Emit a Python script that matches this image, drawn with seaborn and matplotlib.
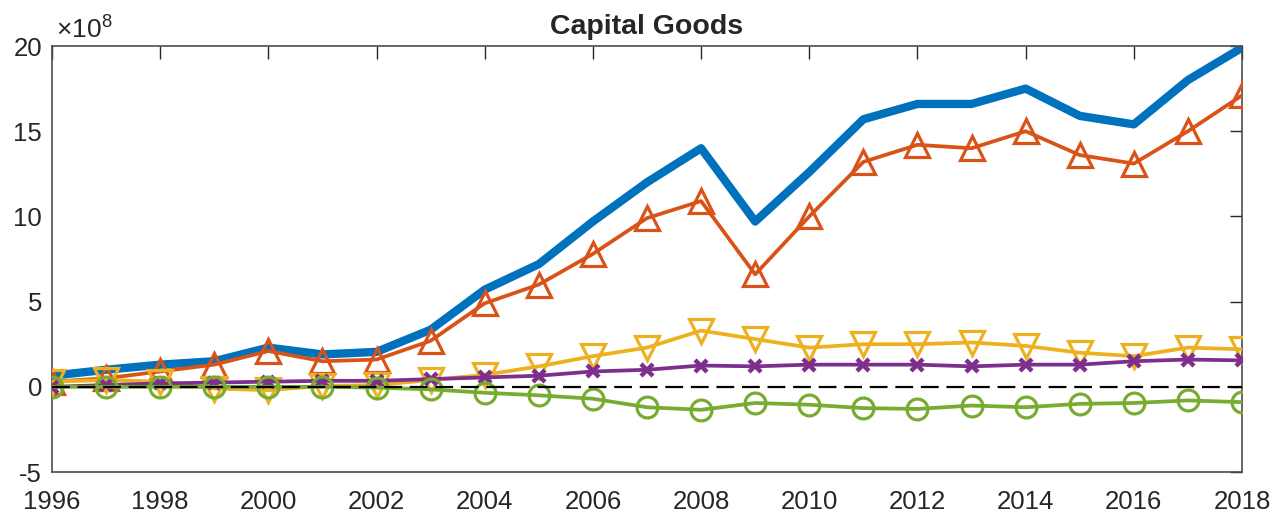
import matplotlib
matplotlib.use("Agg")
import matplotlib.pyplot as plt
import seaborn as sns

# Data (values in units of 1e8)
years = list(range(1996, 2019))
total = [0.65, 1.0, 1.3, 1.5, 2.3, 1.9, 2.05, 3.35, 5.7, 7.2, 9.7, 12.0, 14.0,
         9.7, 12.6, 15.7, 16.6, 16.6, 17.5, 15.9, 15.4, 18.0, 19.9]
tri_up = [0.3, 0.5, 0.9, 1.3, 2.1, 1.5, 1.6, 2.7, 4.9, 6.0, 7.8, 9.9, 10.9,
          6.6, 10.0, 13.2, 14.2, 14.0, 15.0, 13.6, 13.1, 15.0, 17.1]
tri_down = [0.3, 0.4, 0.3, -0.1, -0.2, 0.05, 0.1, 0.4, 0.7, 1.2, 1.8, 2.3, 3.3,
            2.8, 2.3, 2.5, 2.5, 2.6, 2.4, 2.0, 1.8, 2.3, 2.2]
cross = [0.0, 0.1, 0.2, 0.25, 0.3, 0.35, 0.35, 0.45, 0.55, 0.65, 0.9, 1.0, 1.25,
         1.2, 1.3, 1.3, 1.3, 1.2, 1.3, 1.3, 1.5, 1.6, 1.55]
circle = [0.0, 0.0, 0.0, 0.0, 0.0, 0.0, -0.05, -0.15, -0.35, -0.5, -0.7, -1.2, -1.35,
          -0.95, -1.05, -1.25, -1.3, -1.1, -1.2, -1.0, -0.95, -0.8, -0.9]

sns.set_style("white")
plt.rcParams['font.family'] = ['Liberation Sans', 'DejaVu Sans']
plt.rcParams['axes.unicode_minus'] = False
plt.rcParams['mathtext.fontset'] = 'custom'
plt.rcParams['mathtext.rm'] = 'Liberation Sans'

fig = plt.figure(figsize=(12.86, 5.14), dpi=100)
ax = fig.add_axes([0.0404, 0.0817, 0.9254, 0.8288])

# MATLAB default colour order
sns.lineplot(x=years, y=total, color='#0072BD', lw=6.0, ax=ax, zorder=2)
sns.lineplot(x=years, y=tri_up, color='#D95319', lw=2.7, marker='^', markersize=17,
             markerfacecolor='none', markeredgecolor='#D95319', markeredgewidth=2.3,
             ax=ax, zorder=3)
sns.lineplot(x=years, y=tri_down, color='#EDB120', lw=2.7, marker='v', markersize=17,
             markerfacecolor='none', markeredgecolor='#EDB120', markeredgewidth=2.3,
             ax=ax, zorder=4)
sns.lineplot(x=years, y=cross, color='#7E2F8E', lw=2.7, marker='x', markersize=9,
             markeredgecolor='#7E2F8E', markeredgewidth=3.2,
             ax=ax, zorder=5)
sns.lineplot(x=years, y=circle, color='#77AC30', lw=2.7, marker='o', markersize=15,
             markerfacecolor='none', markeredgecolor='#77AC30', markeredgewidth=2.3,
             ax=ax, zorder=6)
ax.axhline(0, color='black', lw=1.6, ls=(0, (8, 3.5)), zorder=7)

ax.set_xlim(1996, 2018)
ax.set_ylim(-5, 20)
ax.set_xticks(range(1996, 2019, 2))
ax.set_yticks([-5, 0, 5, 10, 15, 20])
ax.tick_params(direction='in', length=9, width=1.0, color='#262626',
               labelsize=18.5, labelcolor='#262626', top=True, right=True)
ax.tick_params(axis='y', pad=7)
ax.tick_params(axis='x', pad=13)
for sp in ax.spines.values():
    sp.set_color('#4d4d4d')
    sp.set_linewidth(1.2)

ax.set_title('Capital Goods', fontsize=20.5, fontweight='bold', pad=9)
ax.text(0.003, 1.008, r'$\times$10$^{8}$', transform=ax.transAxes, fontsize=19,
        color='#262626', ha='left', va='bottom')

fig.savefig('out.png', dpi=100)
